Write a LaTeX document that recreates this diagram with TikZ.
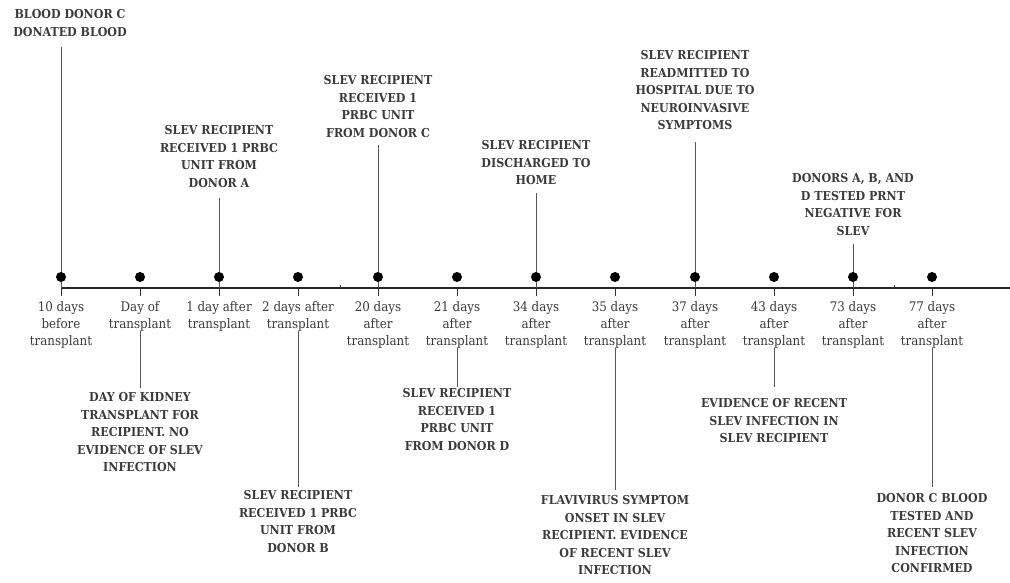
\documentclass[tikz,border=0pt]{standalone}
\usepackage{fontspec}
\setmainfont{DejaVu Serif Condensed}
\definecolor{txt}{RGB}{58,58,58}
\definecolor{lin}{RGB}{85,85,85}
\tikzset{
  ev/.style={font=\bfseries\fontsize{12.3}{17.5}\selectfont, text=txt, align=center, inner sep=0pt, anchor=north},
  datelbl/.style={font=\fontsize{13.2}{17}\selectfont, text=txt, align=center, inner sep=0pt, anchor=north},
  dot/.style={circle, fill=black, minimum size=10pt, inner sep=0pt},
  conn/.style={draw=lin, line width=0.9pt},
  axisline/.style={draw=black!85, line width=1.4pt},
  tickline/.style={draw=black!80, line width=0.9pt}
}
\begin{document}
\begin{tikzpicture}[x=1pt,y=-1pt]
\useasboundingbox (0,0) rectangle (1010,582);
% ticks
\foreach \i/\x in {1/61,2/140,3/219,4/298,5/378,6/457,7/536,8/615,9/695,10/774,11/853,12/932}{
  \coordinate (a\i) at (\x,288);
  \coordinate (b\i) at (\x,296);
  \draw[tickline] (a\i) -- (b\i);
}
\coordinate (axs) at (61,288);
\coordinate (axe) at (1010,288);
\draw[axisline] (axs) -- (axe);
\coordinate (k1) at (340,288); \coordinate (k1t) at (340,284.5);
\coordinate (k2) at (894,288); \coordinate (k2t) at (894,284.5);
\draw[tickline] (k1) -- (k1t);
\draw[tickline] (k2) -- (k2t);
% date labels
\node[datelbl] (t1) at (61,301) {10 days\\before\\transplant};
\node[datelbl] (t2) at (140,301) {Day of\\transplant};
\node[datelbl] (t3) at (219,301) {1 day after\\transplant};
\node[datelbl] (t4) at (298,301) {2 days after\\transplant};
\node[datelbl] (t5) at (378,301) {20 days\\after\\transplant};
\node[datelbl] (t6) at (457,301) {21 days\\after\\transplant};
\node[datelbl] (t7) at (536,301) {34 days\\after\\transplant};
\node[datelbl] (t8) at (615,301) {35 days\\after\\transplant};
\node[datelbl] (t9) at (695,301) {37 days\\after\\transplant};
\node[datelbl] (t10) at (774,301) {43 days\\after\\transplant};
\node[datelbl] (t11) at (853,301) {73 days\\after\\transplant};
\node[datelbl] (t12) at (932,301) {77 days\\after\\transplant};
% up events
\node[ev] (u1) at (70,9.5) {BLOOD DONOR C\\DONATED BLOOD};
\node[ev] (u3) at (219,125.5) {SLEV RECIPIENT\\RECEIVED 1 PRBC\\UNIT FROM\\DONOR A};
\node[ev] (u5) at (378,75.5) {SLEV RECIPIENT\\RECEIVED 1\\PRBC UNIT\\FROM DONOR C};
\node[ev] (u7) at (536,140.5) {SLEV RECIPIENT\\DISCHARGED TO\\HOME};
\node[ev] (u9) at (695,50.5) {SLEV RECIPIENT\\READMITTED TO\\HOSPITAL DUE TO\\NEUROINVASIVE\\SYMPTOMS};
\node[ev] (u11) at (853,173.5) {DONORS A, B, AND\\D TESTED PRNT\\NEGATIVE FOR\\SLEV};
% down events
\node[ev] (w2) at (140,392.5) {DAY OF KIDNEY\\TRANSPLANT FOR\\RECIPIENT. NO\\EVIDENCE OF SLEV\\INFECTION};
\node[ev] (w4) at (298,490.5) {SLEV RECIPIENT\\RECEIVED 1 PRBC\\UNIT FROM\\DONOR B};
\node[ev] (w6) at (457,388.5) {SLEV RECIPIENT\\RECEIVED 1\\PRBC UNIT\\FROM DONOR D};
\node[ev] (w8) at (615,495.5) {FLAVIVIRUS SYMPTOM\\ONSET IN SLEV\\RECIPIENT. EVIDENCE\\OF RECENT SLEV\\INFECTION};
\node[ev] (w10) at (774,398.5) {EVIDENCE OF RECENT\\SLEV INFECTION IN\\SLEV RECIPIENT};
\node[ev] (w12) at (932,493.5) {DONOR C BLOOD\\TESTED AND\\RECENT SLEV\\INFECTION\\CONFIRMED};
% up connectors
\draw[conn, shorten <=10pt] (u1.south -| a1) -- (a1);
\draw[conn, shorten <=10pt] (u3.south) -- (a3);
\draw[conn, shorten <=7pt] (u5.south) -- (a5);
\draw[conn, shorten <=8pt] (u7.south) -- (a7);
\draw[conn, shorten <=12pt] (u9.south) -- (a9);
\draw[conn, shorten <=8pt] (u11.south) -- (a11);
% down connectors
\draw[conn, shorten >=5pt] (t2.south) -- (w2.north);
\draw[conn, shorten >=4pt] (t4.south) -- (w4.north);
\draw[conn, shorten >=2pt] (t6.south) -- (w6.north);
\draw[conn, shorten >=6pt] (t8.south) -- (w8.north);
\draw[conn, shorten >=12pt] (t10.south) -- (w10.north);
\draw[conn, shorten >=7pt] (t12.south) -- (w12.north);
% dots
\foreach \i/\x in {1/61,2/140,3/219,4/298,5/378,6/457,7/536,8/615,9/695,10/774,11/853,12/932}{
  \node[dot] (d\i) at (\x,277) {};
}
\end{tikzpicture}
\end{document}
